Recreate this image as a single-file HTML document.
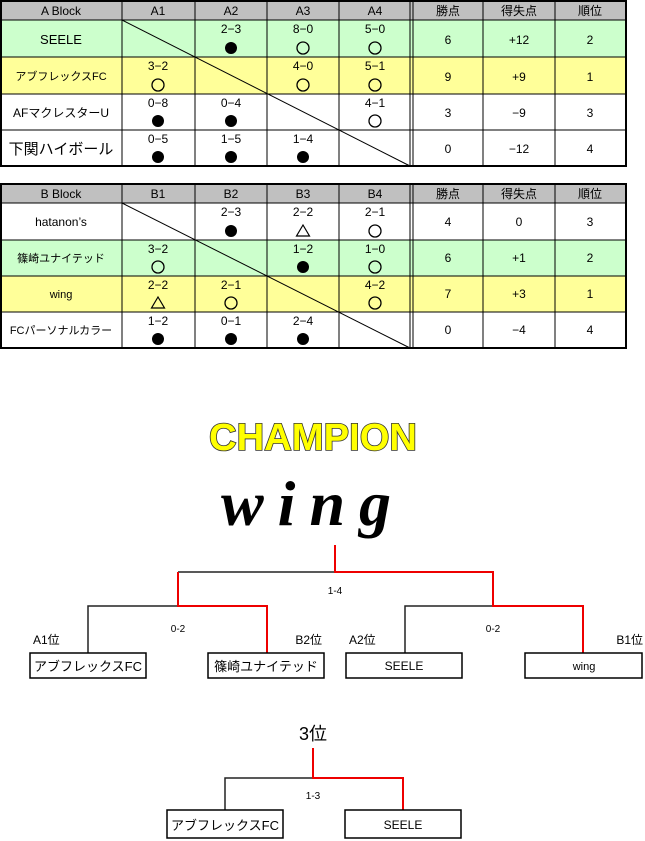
<!DOCTYPE html>
<html><head><meta charset="utf-8"><style>
html,body{margin:0;padding:0;background:#fff;}
svg{display:block;font-family:"Liberation Sans","Noto Sans CJK JP",sans-serif;}
</style></head><body>
<svg width="645" height="841" viewBox="0 0 645 841" xmlns="http://www.w3.org/2000/svg">
<defs>
<circle id="b" r="6" fill="#000"/>
<circle id="w" r="6" fill="none" stroke="#000" stroke-width="1.3"/>
<polygon id="t" points="0,-6 -6.5,5 6.5,5" fill="none" stroke="#000" stroke-width="1.2"/>
</defs>
<g id="A">
<rect x="1" y="1" width="625" height="19" fill="#c0c0c0"/>
<rect x="1" y="20" width="625" height="37" fill="#ccffcc"/>
<rect x="1" y="57" width="625" height="37" fill="#ffff99"/>
<g stroke="#000" stroke-width="1" fill="none">
<line x1="1" y1="20" x2="626" y2="20"/><line x1="1" y1="57" x2="626" y2="57"/><line x1="1" y1="94" x2="626" y2="94"/><line x1="1" y1="130" x2="626" y2="130"/>
<line x1="122" y1="1" x2="122" y2="166"/><line x1="195" y1="1" x2="195" y2="166"/><line x1="267" y1="1" x2="267" y2="166"/><line x1="339" y1="1" x2="339" y2="166"/><line x1="410" y1="1" x2="410" y2="166"/><line x1="413" y1="1" x2="413" y2="166"/><line x1="483" y1="1" x2="483" y2="166"/><line x1="555" y1="1" x2="555" y2="166"/>
<line x1="122" y1="20" x2="410" y2="166"/>
<rect x="1" y="1" width="625" height="165" stroke-width="2"/>
</g>
<g font-size="12" text-anchor="middle" fill="#000">
<text x="61" y="15">A Block</text><text x="158" y="15">A1</text><text x="231" y="15">A2</text><text x="303" y="15">A3</text><text x="375" y="15">A4</text><text x="448" y="15">勝点</text><text x="519" y="15">得失点</text><text x="590" y="15">順位</text>
<text x="61" y="44" font-size="13">SEELE</text>
<text x="231" y="33">2−3</text><text x="303" y="33">8−0</text><text x="375" y="33">5−0</text>
<text x="448" y="44">6</text><text x="519" y="44">+12</text><text x="590" y="44">2</text>
<text x="61" y="80" font-size="11">アブフレックスFC</text>
<text x="158" y="70">3−2</text><text x="303" y="70">4−0</text><text x="375" y="70">5−1</text>
<text x="448" y="81">9</text><text x="519" y="81">+9</text><text x="590" y="81">1</text>
<text x="61" y="117">AFマクレスターU</text>
<text x="158" y="107">0−8</text><text x="231" y="107">0−4</text><text x="375" y="107">4−1</text>
<text x="448" y="117">3</text><text x="519" y="117">−9</text><text x="590" y="117">3</text>
<text x="61" y="154" font-size="15">下関ハイボール</text>
<text x="158" y="143">0−5</text><text x="231" y="143">1−5</text><text x="303" y="143">1−4</text>
<text x="448" y="153">0</text><text x="519" y="153">−12</text><text x="590" y="153">4</text>
</g>
<use href="#b" x="231" y="48"/><use href="#w" x="303" y="48"/><use href="#w" x="375" y="48"/>
<use href="#w" x="158" y="85"/><use href="#w" x="303" y="85"/><use href="#w" x="375" y="85"/>
<use href="#b" x="158" y="121"/><use href="#b" x="231" y="121"/><use href="#w" x="375" y="121"/>
<use href="#b" x="158" y="157"/><use href="#b" x="231" y="157"/><use href="#b" x="303" y="157"/>
</g>
<g id="B">
<rect x="1" y="184" width="625" height="19" fill="#c0c0c0"/>
<rect x="1" y="240" width="625" height="36" fill="#ccffcc"/>
<rect x="1" y="276" width="625" height="36" fill="#ffff99"/>
<g stroke="#000" stroke-width="1" fill="none">
<line x1="1" y1="203" x2="626" y2="203"/><line x1="1" y1="240" x2="626" y2="240"/><line x1="1" y1="276" x2="626" y2="276"/><line x1="1" y1="312" x2="626" y2="312"/>
<line x1="122" y1="184" x2="122" y2="348"/><line x1="195" y1="184" x2="195" y2="348"/><line x1="267" y1="184" x2="267" y2="348"/><line x1="339" y1="184" x2="339" y2="348"/><line x1="410" y1="184" x2="410" y2="348"/><line x1="413" y1="184" x2="413" y2="348"/><line x1="483" y1="184" x2="483" y2="348"/><line x1="555" y1="184" x2="555" y2="348"/>
<line x1="122" y1="203" x2="410" y2="348"/>
<rect x="1" y="184" width="625" height="164" stroke-width="2"/>
</g>
<g font-size="12" text-anchor="middle" fill="#000">
<text x="61" y="198">B Block</text><text x="158" y="198">B1</text><text x="231" y="198">B2</text><text x="303" y="198">B3</text><text x="375" y="198">B4</text><text x="448" y="198">勝点</text><text x="519" y="198">得失点</text><text x="590" y="198">順位</text>
<text x="61" y="226">hatanon’s</text>
<text x="231" y="216">2−3</text><text x="303" y="216">2−2</text><text x="375" y="216">2−1</text>
<text x="448" y="226">4</text><text x="519" y="226">0</text><text x="590" y="226">3</text>
<text x="61" y="262" font-size="11">篠崎ユナイテッド</text>
<text x="158" y="253">3−2</text><text x="303" y="253">1−2</text><text x="375" y="253">1−0</text>
<text x="448" y="262">6</text><text x="519" y="262">+1</text><text x="590" y="262">2</text>
<text x="61" y="298" font-size="11">wing</text>
<text x="158" y="289">2−2</text><text x="231" y="289">2−1</text><text x="375" y="289">4−2</text>
<text x="448" y="298">7</text><text x="519" y="298">+3</text><text x="590" y="298">1</text>
<text x="61" y="334" font-size="11">FCパーソナルカラー</text>
<text x="158" y="325">1−2</text><text x="231" y="325">0−1</text><text x="303" y="325">2−4</text>
<text x="448" y="334">0</text><text x="519" y="334">−4</text><text x="590" y="334">4</text>
</g>
<use href="#b" x="231" y="231"/><use href="#t" x="303" y="231"/><use href="#w" x="375" y="231"/>
<use href="#w" x="158" y="267"/><use href="#b" x="303" y="267"/><use href="#w" x="375" y="267"/>
<use href="#t" x="158" y="303"/><use href="#w" x="231" y="303"/><use href="#w" x="375" y="303"/>
<use href="#b" x="158" y="339"/><use href="#b" x="231" y="339"/><use href="#b" x="303" y="339"/>
</g>
<text x="313" y="450" font-size="38" font-weight="bold" text-anchor="middle" fill="#ffff00" stroke="#333" stroke-width="1.6" paint-order="stroke" textLength="208" lengthAdjust="spacingAndGlyphs">CHAMPION</text>
<text x="313" y="525" font-size="64" font-weight="bold" font-style="italic" font-family="Liberation Serif, serif" text-anchor="middle" fill="#000" letter-spacing="14">wing</text>
<g fill="none" stroke-width="2">
<polyline points="88,653 88,606 178,606" stroke="#222" stroke-width="1.5"/>
<polyline points="178,572 335,572" stroke="#222" stroke-width="1.5"/>
<polyline points="405,653 405,606 493,606" stroke="#222" stroke-width="1.5"/>
<polyline points="335,545 335,572 493,572 493,606 583,606 583,653" stroke="#e00"/>
<polyline points="178,572 178,606 267,606 267,653" stroke="#e00"/>
<polyline points="225,810 225,778 313,778" stroke="#222" stroke-width="1.5"/>
<polyline points="313,748 313,778 403,778 403,810" stroke="#e00"/>
<g stroke="#000" stroke-width="1.5">
<rect x="30" y="653" width="116" height="25"/><rect x="208" y="653" width="116" height="25"/>
<rect x="346" y="653" width="116" height="25"/><rect x="525" y="653" width="117" height="25"/>
<rect x="167" y="810" width="116" height="28"/><rect x="345" y="810" width="116" height="28"/>
</g>
</g>
<g font-size="12" fill="#000">
<text x="33" y="644">A1位</text><text x="322" y="644" text-anchor="end">B2位</text>
<text x="349" y="644">A2位</text><text x="643" y="644" text-anchor="end">B1位</text>
<text x="335" y="594" font-size="10" text-anchor="middle">1-4</text>
<text x="178" y="632" font-size="10" text-anchor="middle">0-2</text>
<text x="493" y="632" font-size="10" text-anchor="middle">0-2</text>
<text x="88" y="671" font-size="13" text-anchor="middle">アブフレックスFC</text>
<text x="266" y="671" font-size="13" text-anchor="middle">篠崎ユナイテッド</text>
<text x="404" y="670" text-anchor="middle">SEELE</text>
<text x="584" y="670" font-size="11" text-anchor="middle">wing</text>
<text x="313" y="740" font-size="18" text-anchor="middle">3位</text>
<text x="313" y="799" font-size="10" text-anchor="middle">1-3</text>
<text x="225" y="830" font-size="13" text-anchor="middle">アブフレックスFC</text>
<text x="403" y="829" text-anchor="middle">SEELE</text>
</g>
</svg>
</body></html>
